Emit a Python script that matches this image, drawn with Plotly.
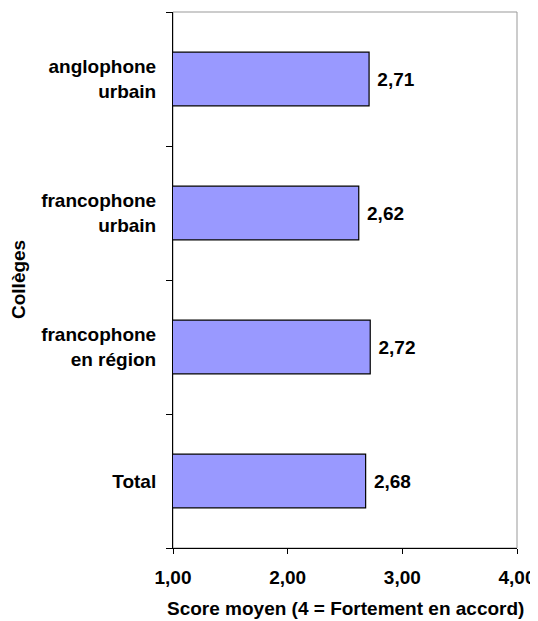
import plotly.graph_objects as go

categories = ["anglophone<br>urbain", "francophone<br>urbain", "francophone<br>en région", "Total"]
scores = [2.71, 2.62, 2.72, 2.68]
tick_vals = [1, 2, 3, 4]
tick_text = ["1,00", "2,00", "3,00", "4,00"]
score_text = ["\u00a0" + f"{v:.2f}".replace(".", ",") for v in scores]

FONT = "Liberation Sans, Arial"
SZ = 19

fig = go.Figure()
fig.add_trace(go.Bar(
    y=categories, x=scores, orientation="h", base=0,
    text=score_text, textposition="outside", cliponaxis=False,
    textfont=dict(family=FONT, size=SZ, color="black", weight="bold"),
    marker=dict(color="#9999FF", line=dict(color="black", width=1.2)),
    width=0.4,
))

# grey frame on top/right of plot area
fig.add_shape(type="rect", xref="paper", yref="paper", x0=0, x1=1, y0=0, y1=1,
              line=dict(color="#999999", width=1), layer="below")

fig.add_annotation(text="Score moyen (4 = Fortement en accord)", xref="paper", yref="paper",
                   x=0.5, y=0, yshift=-60, yanchor="middle", showarrow=False,
                   font=dict(family=FONT, size=SZ, weight="bold"))
fig.add_annotation(text="Collèges", xref="paper", yref="paper", textangle=-90,
                   x=0, xshift=-155, y=0.5, xanchor="center", showarrow=False,
                   font=dict(family=FONT, size=SZ, weight="bold"))

# page body has an 8px margin, so the figure is a bit smaller than the window
fig.update_layout(
    width=530, height=613,
    margin=dict(l=165, r=21, t=4, b=73),
    plot_bgcolor="white", paper_bgcolor="white",
    showlegend=False,
    font=dict(family=FONT, size=SZ, color="black"),
    xaxis=dict(
        range=[1, 4], tickvals=tick_vals, ticktext=tick_text, automargin=False,
        ticks="outside", ticklen=5, tickcolor="black",
        showline=True, linecolor="black", linewidth=1,
        showgrid=False, zeroline=False,
        ticklabelstandoff=7,
        tickfont=dict(size=SZ, weight="bold"),
    ),
    yaxis=dict(
        categoryorder="array", categoryarray=categories[::-1], automargin=False,
        ticks="outside", ticklen=6, tickcolor="black", tickson="boundaries",
        showline=True, linecolor="black", linewidth=1,
        showgrid=False,
        ticklabelstandoff=12,
        tickfont=dict(size=SZ, weight="bold"),
    ),
)

fig.write_html("out.html")
